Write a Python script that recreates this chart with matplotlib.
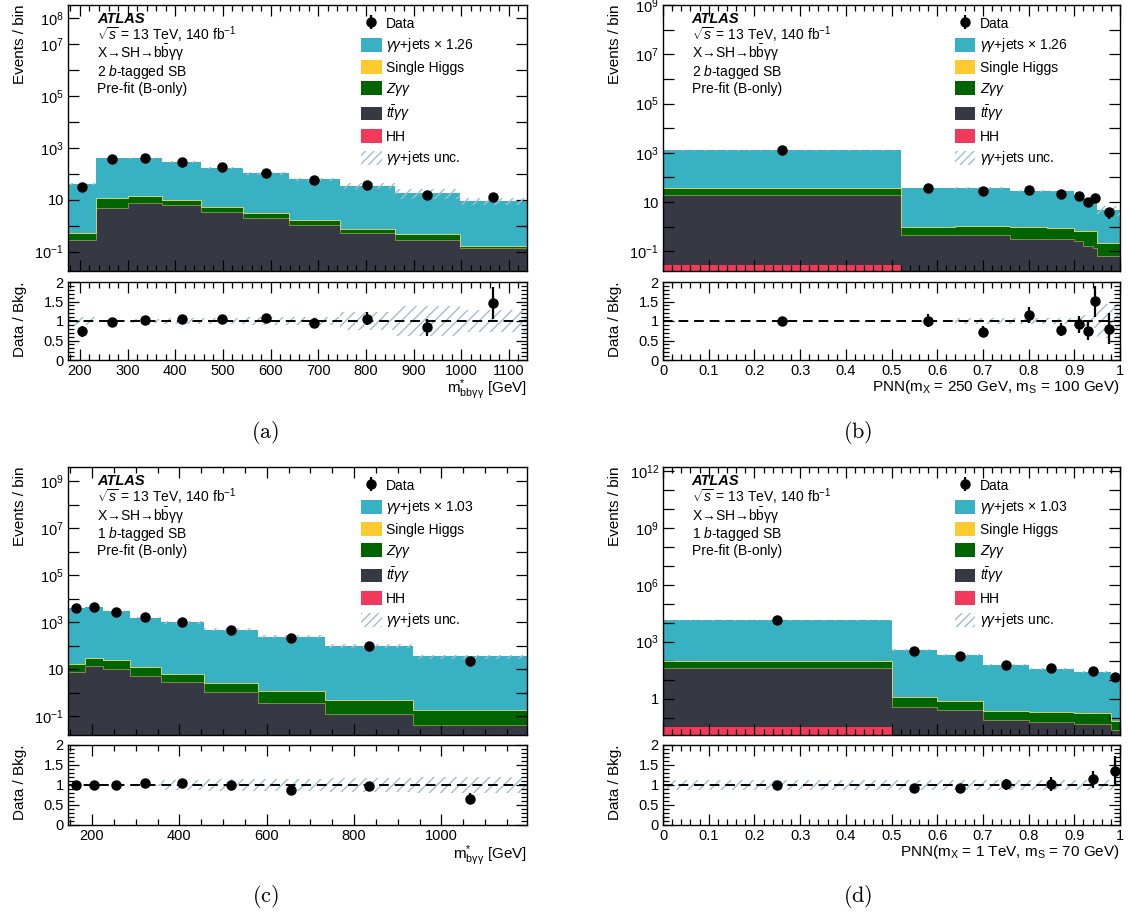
import numpy as np
import matplotlib
matplotlib.use('Agg')
import matplotlib.pyplot as plt
from matplotlib.ticker import FixedLocator, MultipleLocator, FuncFormatter, NullLocator, NullFormatter
from matplotlib.patches import Patch

plt.rcParams['font.family'] = ['Liberation Sans', 'DejaVu Sans']
plt.rcParams['mathtext.fontset'] = 'custom'
plt.rcParams['mathtext.rm'] = 'Liberation Sans'
plt.rcParams['mathtext.it'] = 'Liberation Sans:italic'
plt.rcParams['mathtext.bf'] = 'Liberation Sans:bold'
plt.rcParams['hatch.linewidth'] = 1.0

# ---------------- data: (a) 2 b-tag, m*_bbyy ----------------
a_edges = [175, 234, 300, 372, 455, 542, 638, 745, 861, 997, 1138]
a_hh = [0.002, 0.006, 0.005, 0.004, 0.003, 0.002, 0.0015, 0.001, 0.0007, 0.0004]
a_tt = [0.28, 4.7, 7.4, 6.1, 3.4, 1.93, 1.03, 0.54, 0.29, 0.138]
a_z = [0.19, 6.3, 5.2, 2.8, 1.7, 0.82, 0.48, 0.18, 0.14, 0.017]
a_sh = [0.04, 0.9, 1.0, 0.7, 0.4, 0.22, 0.12, 0.06, 0.035, 0.01]
a_yy = [40.5, 388, 391, 270, 165, 101, 59, 34, 17.5, 8.7]
a_unc = [0.10, 0.02, 0.04, 0.08, 0.08, 0.10, 0.10, 0.23, 0.40, 0.28]
a_data = [30, 385, 410, 295, 178, 111, 57, 37, 15, 13]

# ---------------- data: (b) 2 b-tag, PNN(250, 100) ----------------
b_edges = [0, 0.52, 0.64, 0.76, 0.84, 0.90, 0.92, 0.94, 0.95, 1.0]
b_hh = [0.029, 0.002, 0.002, 0.001, 0.001, 0.001, 0.001, 0.001, 0.001]
b_tt = [20.2, 0.48, 0.48, 0.33, 0.33, 0.27, 0.16, 0.14, 0.063]
b_z = [14.2, 0.47, 0.52, 0.62, 0.54, 0.35, 0.49, 0.51, 0.137]
b_sh = [1.5, 0.05, 0.05, 0.05, 0.045, 0.03, 0.03, 0.03, 0.01]
b_yy = [1209, 36.8, 36.0, 26.6, 26.1, 17.9, 12.8, 9.3, 4.8]
b_unc = [0.01, 0.02, 0.08, 0.08, 0.08, 0.12, 0.15, 0.20, 0.45]
b_data = [1257, 38, 27, 32, 21, 17, 10, 15, 4]

# ---------------- data: (c) 1 b-tag, m*_byy ----------------
c_edges = [145, 183, 226, 286, 357, 457, 579, 733, 935, 1196]
c_hh = [0.002, 0.002, 0.002, 0.002, 0.001, 0.001, 0.001, 0.001, 0.001]
c_tt = [7.7, 13.9, 10.7, 5.2, 2.87, 1.07, 0.37, 0.126, 0.04]
c_z = [8.7, 13.8, 12.1, 6.2, 3.4, 1.5, 0.77, 0.34, 0.14]
c_sh = [0.8, 1.4, 1.1, 0.6, 0.3, 0.13, 0.06, 0.025, 0.01]
c_yy = [3960, 4370, 2845, 1573, 993, 482, 242, 96.5, 34.8]
c_unc = [0.01, 0.01, 0.01, 0.02, 0.12, 0.15, 0.15, 0.18, 0.20]
c_data = [3940, 4440, 2840, 1664, 1040, 480, 211, 94, 23]

# ---------------- data: (d) 1 b-tag, PNN(1 TeV, 70) ----------------
d_edges = [0, 0.5, 0.6, 0.7, 0.8, 0.9, 0.98, 1.0]
d_hh = [0.032, 0.001, 0.001, 0.001, 0.001, 0.001, 0.001]
d_tt = [41.4, 0.35, 0.24, 0.071, 0.056, 0.042, 0.021]
d_z = [44.6, 0.84, 0.40, 0.139, 0.134, 0.118, 0.042]
d_sh = [8.0, 0.06, 0.06, 0.01, 0.01, 0.008, 0.003]
d_yy = [13006, 358.7, 194.3, 59.8, 37.8, 26.2, 9.5]
d_unc = [0.12, 0.12, 0.12, 0.12, 0.12, 0.12, 0.12]
d_data = [13150, 335, 180, 61, 39, 30, 13]

W, H = 1128, 914
fig = plt.figure(figsize=(W / 100, H / 100), dpi=100)

C_YY = '#38b1c2'
C_SH = '#fdca30'
C_Z = '#006500'
C_TT = '#363944'
C_HH = '#f13a5b'
C_HATCH = '#a5bccc'

def add_ax(l, t, r, b):
    return fig.add_axes([l / W, 1 - b / H, (r - l) / W, (b - t) / H])

panels = [
    dict(edges=a_edges, hh=a_hh, tt=a_tt, z=a_z, sh=a_sh, yy=a_yy, unc=a_unc, data=a_data,
         main=(68, 5, 527, 271), ratio=(68, 282, 527, 360), xlim=(175, 1138), xmaj=100, xmin=20,
         ylim=(0.018, 3.2e8), ylab=[-1, 1, 3, 5, 7, 8], scale='1.26', region='2',
         xlabel=r'm$^{*}_{\mathrm{bb\gamma\gamma}}$ [GeV]', cap='(a)', cap_xy=(265, 432)),
    dict(edges=b_edges, hh=b_hh, tt=b_tt, z=b_z, sh=b_sh, yy=b_yy, unc=b_unc, data=b_data,
         main=(663, 5, 1120, 271), ratio=(663, 282, 1120, 360), xlim=(0, 1), xmaj=0.1, xmin=0.02,
         ylim=(0.016, 1e9), ylab=[-1, 1, 3, 5, 7, 9], scale='1.26', region='2',
         xlabel=r'PNN(m$_{\mathrm{X}}$ = 250 GeV, m$_{\mathrm{S}}$ = 100 GeV)', cap='(b)', cap_xy=(858, 432)),
    dict(edges=c_edges, hh=c_hh, tt=c_tt, z=c_z, sh=c_sh, yy=c_yy, unc=c_unc, data=c_data,
         main=(68, 467, 527, 735), ratio=(68, 745, 527, 825), xlim=(145, 1196), xmaj=200, xmin=50,
         ylim=(0.016, 4e9), ylab=[-1, 1, 3, 5, 7, 9], scale='1.03', region='1',
         xlabel=r'm$^{*}_{\mathrm{b\gamma\gamma}}$ [GeV]', cap='(c)', cap_xy=(265, 897)),
    dict(edges=d_edges, hh=d_hh, tt=d_tt, z=d_z, sh=d_sh, yy=d_yy, unc=d_unc, data=d_data,
         main=(663, 467, 1120, 735), ratio=(663, 745, 1120, 825), xlim=(0, 1), xmaj=0.1, xmin=0.02,
         ylim=(0.012, 1.6e12), ylab=[0, 3, 6, 9, 12], scale='1.03', region='1',
         xlabel=r'PNN(m$_{\mathrm{X}}$ = 1 TeV, m$_{\mathrm{S}}$ = 70 GeV)', cap='(d)', cap_xy=(858, 897)),
]

TICK_FS = 10.5
TITLE_FS = 11
TEXT_FS = 10

def log_fmt(labels):
    def f(v, pos):
        k = int(round(np.log10(v)))
        if k not in labels:
            return ''
        if k == 0:
            return '1'
        if k == 1:
            return '10'
        return r'$10^{%d}$' % k
    return f

for p in panels:
    ax = add_ax(*p['main'])
    rax = add_ax(*p['ratio'])
    edges = np.asarray(p['edges'], dtype=float)
    xc = 0.5 * (edges[:-1] + edges[1:])
    layers = [p['hh'], p['tt'], p['z'], p['sh'], p['yy']]
    colors = [C_HH, C_TT, C_Z, C_SH, C_YY]
    base = np.full(len(edges) - 1, 1e-6)
    tops = []
    for vals, col in zip(layers, colors):
        top = base + np.asarray(vals, dtype=float)
        ax.stairs(top, edges, baseline=base, fill=True, facecolor=col, edgecolor='none', lw=0, zorder=1)
        tops.append(top)
        base = top
    total = base
    # thin outlines between components (ROOT style)
    ax.stairs(tops[1], edges, baseline=None, color='#7f8f45', lw=0.7, zorder=2)
    ax.stairs(tops[3], edges, baseline=None, color='#d9cf6a', lw=0.7, zorder=2)

    yy = np.asarray(p['yy'], dtype=float)
    unc = np.asarray(p['unc'], dtype=float)
    ax.stairs(total + yy * unc, edges, baseline=total - yy * unc, fill=True,
              facecolor='none', edgecolor=C_HATCH, hatch='///', lw=0, zorder=3)

    n = np.asarray(p['data'], dtype=float)
    eb = ax.errorbar(xc, n, yerr=np.sqrt(n), fmt='o', color='k', ms=6.5,
                     elinewidth=1.6, capsize=0, zorder=5)

    # ratio
    rel = yy * unc / total
    rax.stairs(1 + rel, edges, baseline=1 - rel, fill=True,
               facecolor='none', edgecolor=C_HATCH, hatch='///', lw=0, zorder=1)
    rax.axhline(1.0, color='k', ls=(0, (5, 3)), lw=1.4, zorder=2)
    rax.errorbar(xc, n / total, yerr=np.sqrt(n) / total, fmt='o', color='k', ms=6.5,
                 elinewidth=1.6, capsize=0, zorder=5)

    # axes styling
    ax.set_yscale('log')
    ax.set_ylim(p['ylim'])
    lo = int(np.floor(np.log10(p['ylim'][0]))) + 1
    hi = int(np.floor(np.log10(p['ylim'][1])))
    ax.yaxis.set_major_locator(FixedLocator([10.0 ** k for k in range(lo, hi + 1)]))
    ax.yaxis.set_minor_locator(NullLocator())
    ax.yaxis.set_major_formatter(FuncFormatter(log_fmt(p['ylab'])))
    ax.yaxis.set_minor_formatter(NullFormatter())

    rax.set_ylim(0, 2)
    rax.yaxis.set_major_locator(FixedLocator([0, 0.5, 1, 1.5, 2]))
    rax.yaxis.set_minor_locator(MultipleLocator(0.1))
    rax.yaxis.set_major_formatter(FuncFormatter(lambda v, pos: '%g' % v))

    for a in (ax, rax):
        a.set_xlim(p['xlim'])
        a.xaxis.set_major_locator(MultipleLocator(p['xmaj']))
        a.xaxis.set_minor_locator(MultipleLocator(p['xmin']))
        a.tick_params(which='both', direction='in', top=True, right=True, labelsize=TICK_FS, pad=3)
        a.tick_params(which='major', length=8, width=0.9)
        a.tick_params(which='minor', length=4, width=0.9)
        for s in a.spines.values():
            s.set_linewidth(1.0)
    rax.xaxis.set_major_formatter(FuncFormatter(lambda v, pos: '%g' % round(v, 3)))
    ax.tick_params(labelbottom=False)

    ax.set_ylabel('Events / bin', loc='top', fontsize=TITLE_FS)
    ax.yaxis.set_label_coords(-0.09, 1.0)
    rax.set_ylabel('Data / Bkg.', loc='top', fontsize=TITLE_FS)
    rax.yaxis.set_label_coords(-0.09, 1.0)
    rax.set_xlabel(p['xlabel'], loc='right', fontsize=TITLE_FS)
    rax.xaxis.set_label_coords(1.0, -0.225)

    # labels in the main panel
    h_px = p['main'][3] - p['main'][1]
    lines = [
        ('ATLAS', dict(fontweight='bold', fontstyle='italic', fontsize=10.5)),
        (r'$\sqrt{s}$ = 13 TeV, 140 fb$^{-1}$', {}),
        (r'X→SH→b$\bar{\mathrm{b}}$γγ', {}),
        (p['region'] + r' $b$-tagged SB', {}),
        ('Pre-fit (B-only)', {}),
    ]
    offs = [18, 35.5, 53.5, 71, 88]
    for (s, kw), o in zip(lines, offs):
        kws = dict(fontsize=TEXT_FS)
        kws.update(kw)
        ax.text(0.063, 1 - o / h_px, s, transform=ax.transAxes, va='baseline', ha='left', **kws)

    handles = [eb,
               Patch(facecolor=C_YY, edgecolor='none'),
               Patch(facecolor=C_SH, edgecolor='none'),
               Patch(facecolor=C_Z, edgecolor='none'),
               Patch(facecolor=C_TT, edgecolor='none'),
               Patch(facecolor=C_HH, edgecolor='none'),
               Patch(facecolor='white', edgecolor=C_HATCH, hatch='////', lw=0)]
    labels = ['Data',
              r'$\gamma\gamma$+jets $\times$ ' + p['scale'],
              'Single Higgs',
              r'$Z\gamma\gamma$',
              r'$t\bar{t}\gamma\gamma$',
              'HH',
              r'$\gamma\gamma$+jets unc.']
    ax.legend(handles, labels, loc='upper left', bbox_to_anchor=(0.638, 1 - 11 / h_px),
              frameon=False, fontsize=TEXT_FS, handlelength=1.5, handleheight=1.15,
              labelspacing=0.42, handletextpad=0.3, borderpad=0, borderaxespad=0)

    fig.text(p['cap_xy'][0] / W, 1 - p['cap_xy'][1] / H, r'$\mathrm{' + p['cap'] + '}$',
             math_fontfamily='cm', fontsize=16, ha='center', va='center')

fig.savefig('out.png', dpi=100)
